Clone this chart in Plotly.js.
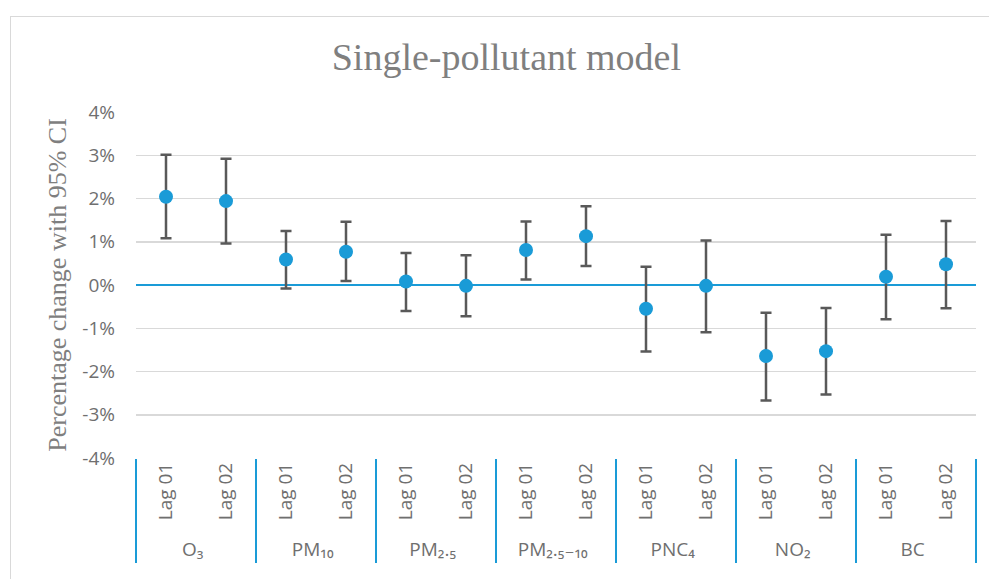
<!DOCTYPE html>
<html>
<head>
<meta charset="utf-8">
<script src="https://cdn.plot.ly/plotly-3.0.1.min.js"></script>
<style>
  html, body { margin: 0; padding: 0; background: #fff; overflow: hidden; }
  #chart { width: 989px; height: 579px; position: absolute; left: 0; top: 0; }
  #frame { position: absolute; left: 10px; top: 16px; width: 1000px; height: 600px;
           border-left: 1.5px solid #d9d9d9; border-top: 1.5px solid #d9d9d9; pointer-events: none; }
</style>
</head>
<body>
<div id="chart"></div>
<div id="frame"></div>
<script>
const pollutants = ['O₃','O₃','PM₁₀','PM₁₀','PM₂.₅','PM₂.₅','PM₂.₅₋₁₀','PM₂.₅₋₁₀','PNC₄','PNC₄','NO₂','NO₂','BC','BC'];
const lags = ['Lag 01','Lag 02','Lag 01','Lag 02','Lag 01','Lag 02','Lag 01','Lag 02','Lag 01','Lag 02','Lag 01','Lag 02','Lag 01','Lag 02'];
const estimate = [2.04, 1.94, 0.59, 0.77, 0.08, -0.02, 0.81, 1.13, -0.55, -0.02, -1.64, -1.53, 0.19, 0.48];
const upperCI  = [3.01, 2.92, 1.25, 1.46, 0.74, 0.69, 1.47, 1.82, 0.42, 1.03, -0.64, -0.53, 1.16, 1.48];
const lowerCI  = [1.08, 0.96, -0.08, 0.09, -0.60, -0.72, 0.13, 0.44, -1.54, -1.09, -2.67, -2.53, -0.79, -0.54];
const yTickVals = [-4, -3, -2, -1, 0, 1, 2, 3, 4];
const yTickText = ['-4%', '-3%', '-2%', '-1%', '0%', '1%', '2%', '3%', '4%'];

const trace = {
  type: 'scatter',
  mode: 'markers',
  x: [pollutants, lags],
  y: estimate,
  marker: { color: '#1a9bd7', size: 14 },
  error_y: {
    type: 'data',
    symmetric: false,
    array: estimate.map((v, i) => upperCI[i] - v),
    arrayminus: estimate.map((v, i) => v - lowerCI[i]),
    color: '#595959',
    thickness: 2.5,
    width: 5.5
  },
  hoverinfo: 'y'
};

const layout = {
  width: 989,
  height: 579,
  margin: { l: 136, r: 13, t: 112, b: 121 },
  paper_bgcolor: 'rgba(0,0,0,0)',
  plot_bgcolor: '#ffffff',
  showlegend: false,
  title: {
    text: 'Single-pollutant model',
    font: { family: 'Liberation Serif, serif', size: 38, color: '#7f7f7f' },
    x: 0.512, xref: 'container', xanchor: 'center',
    y: 0.902, yref: 'container', yanchor: 'middle'
  },
  xaxis: {
    type: 'multicategory',
    range: [-0.5, 13.5],
    tickangle: -90,
    tickfont: { family: 'Open Sans, DejaVu Sans, sans-serif', size: 19, color: '#6f6f6f' },
    showgrid: false,
    showline: false,
    zeroline: false,
    showdividers: true,
    dividercolor: '#1a9bd7',
    dividerwidth: 1.5,
    ticks: 'outside',
    ticklen: 8,
    tickcolor: 'rgba(0,0,0,0)',
    fixedrange: true
  },
  yaxis: {
    range: [-4, 4],
    tickvals: yTickVals,
    ticktext: yTickText,
    tickfont: { family: 'Open Sans, DejaVu Sans, sans-serif', size: 19, color: '#6f6f6f' },
    ticklabelstandoff: 20,
    showgrid: true,
    gridcolor: '#d9d9d9',
    gridwidth: 1.5,
    zeroline: true,
    zerolinecolor: '#1a9bd7',
    zerolinewidth: 2,
    showline: false,
    title: {
      text: 'Percentage change with 95% CI',
      font: { family: 'Liberation Serif, serif', size: 26, color: '#7f7f7f' },
      standoff: 8
    },
    fixedrange: true
  }
};

Plotly.newPlot('chart', [trace], layout, { displayModeBar: false, staticPlot: true });
</script>
</body>
</html>
